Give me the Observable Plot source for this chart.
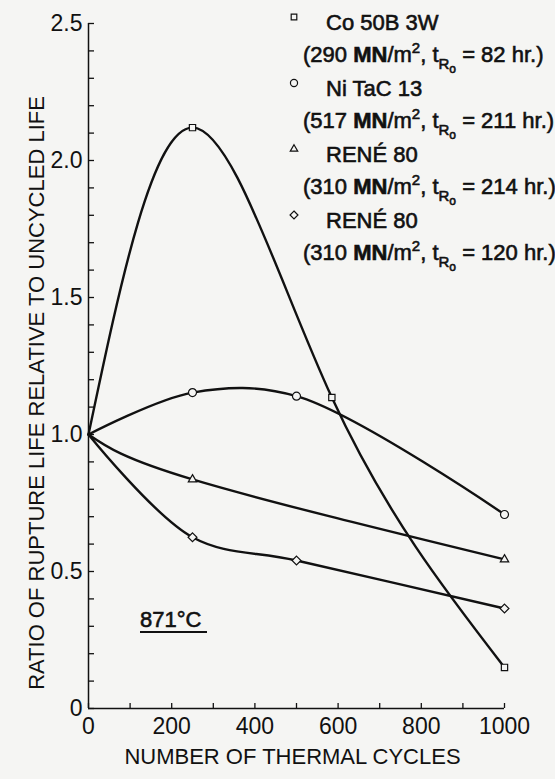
<!DOCTYPE html>
<html>
<head>
<meta charset="utf-8">
<script src="https://cdn.jsdelivr.net/npm/d3@7"></script>
<script src="https://cdn.jsdelivr.net/npm/@observablehq/plot@0.6"></script>
<style>
  html, body { margin: 0; padding: 0; background: #f5f5f3; }
  #wrap { position: relative; width: 555px; height: 779px; font-family: "Liberation Sans", Arial, sans-serif; color: #111; }
  #wrap svg text { -webkit-text-stroke: 0.7px #111; }
  .lg { position: absolute; font-size: 22px; line-height: 22px; white-space: nowrap; -webkit-text-stroke: 0.6px #111; }
  .lg sup { font-size: 15px; vertical-align: 9px; line-height: 0; }
  .lg .sb { font-size: 15px; vertical-align: -7px; line-height: 0; }
  .lg .sb2 { font-size: 12px; vertical-align: -4px; line-height: 0; }
  .sym { position: absolute; }
  #note { position: absolute; font-size: 22px; line-height: 22px; border-bottom: 2px solid #111; padding-right: 6px; -webkit-text-stroke: 0.6px #111; }
</style>
</head>
<body>
<div id="wrap"></div>
<script>
// ---- data ----
const seriesIds = ["co", "ni", "r214", "r120"];
const seriesSymbols = ["square2", "circle", "triangle2", "diamond2"];
const seriesCurves = ["natural", "catmull-rom", "natural", "catmull-rom"];
const seriesNames = ["Co 50B 3W", "Ni TaC 13", "RENÉ 80", "RENÉ 80"];
const seriesStress = ["290", "517", "310", "310"];
const seriesLife = ["82", "211", "214", "120"];

const coCycles = [0, 250, 585, 1000];
const coRatio  = [1.0, 2.12, 1.135, 0.15];
const niCycles = [0, 250, 500, 1000];
const niRatio  = [1.0, 1.153, 1.14, 0.708];
const r214Cycles = [0, 250, 1000];
const r214Ratio  = [1.0, 0.836, 0.544];
const r120Cycles = [0, 250, 500, 1000];
const r120Ratio  = [1.0, 0.625, 0.54, 0.365];

const xTickValues = [0, 100, 200, 300, 400, 500, 600, 700, 800, 900, 1000];
const xTickLabels = [0, 200, 400, 600, 800, 1000];
const yTickValues = [0, 0.1, 0.2, 0.3, 0.4, 0.5, 0.6, 0.7, 0.8, 0.9, 1.0, 1.1, 1.2, 1.3, 1.4, 1.5, 1.6, 1.7, 1.8, 1.9, 2.0, 2.1, 2.2, 2.3, 2.4, 2.5];
const yTickLabels = [0, 0.5, 1.0, 1.5, 2.0, 2.5];

const xTitle = "NUMBER OF THERMAL CYCLES";
const yTitle = "RATIO OF RUPTURE LIFE RELATIVE TO UNCYCLED LIFE";
const noteText = "871°C";

// ---- build rows ----
const raw = {co: [coCycles, coRatio], ni: [niCycles, niRatio], r214: [r214Cycles, r214Ratio], r120: [r120Cycles, r120Ratio]};
const rows = seriesIds.flatMap(id => raw[id][0].map((c, i) => ({series: id, cycles: c, ratio: raw[id][1][i]})));

const ink = "#111";
const bg = "#f5f5f3";

const chart = Plot.plot({
  width: 555, height: 779,
  marginLeft: 88, marginRight: 51, marginTop: 23, marginBottom: 71,
  style: {background: "transparent", fontFamily: "Liberation Sans, Arial, sans-serif", color: ink, fontSize: "23px"},
  x: {domain: [0, 1000]},
  y: {domain: [0, 2.5]},
  symbol: {domain: seriesIds, range: seriesSymbols},
  marks: [
    Plot.ruleX([0], {stroke: ink, strokeWidth: 1.5}),
    Plot.ruleY([0], {stroke: ink, strokeWidth: 1.5}),
    Plot.axisY(yTickValues, {tickSize: -6, tickFormat: () => "", label: null, stroke: ink, strokeWidth: 1.3}),
    Plot.axisY(yTickLabels, {tickSize: 0, tickPadding: 6, tickFormat: d => d === 0 ? "0" : d3.format(".1f")(d), fontSize: 23, label: null}),
    Plot.axisX(xTickValues, {tickSize: -5, tickFormat: () => "", label: null, stroke: ink, strokeWidth: 1.3}),
    Plot.axisX(xTickLabels, {tickSize: 0, tickPadding: 9, tickFormat: d => String(d), fontSize: 23, label: null}),
    Plot.text([yTitle], {frameAnchor: "left", textAnchor: "middle", rotate: -90, dx: -52, dy: 27, fontSize: 22, fill: ink}),
    Plot.text([xTitle], {frameAnchor: "bottom", dx: -4, dy: 55, fontSize: 22, fill: ink}),
    ...seriesIds.map((id, i) => Plot.line(rows.filter(d => d.series === id), {x: "cycles", y: "ratio", curve: seriesCurves[i], stroke: ink, strokeWidth: 2.4})),
    Plot.dot(rows.filter(d => d.cycles > 0), {x: "cycles", y: "ratio", symbol: "series", r: 4, fill: bg, stroke: ink, strokeWidth: 1.2})
  ]
});
const wrap = document.getElementById("wrap");
wrap.appendChild(chart);

// ---- legend (HTML overlay) ----
const symPath = {
  square2: d3.symbol(d3.symbolSquare2, 40)(),
  circle: d3.symbol(d3.symbolCircle, 40)(),
  triangle2: d3.symbol(d3.symbolTriangle2, 40)(),
  diamond2: d3.symbol(d3.symbolDiamond2, 40)()
};
seriesIds.forEach((id, i) => {
  const top = 12 + i * 66;
  const s = document.createElementNS("http://www.w3.org/2000/svg", "svg");
  s.setAttribute("class", "sym"); s.setAttribute("width", 14); s.setAttribute("height", 14);
  s.style.left = (294 - 7) + "px"; s.style.top = (top + 5 - 7) + "px";
  const p = document.createElementNS("http://www.w3.org/2000/svg", "path");
  p.setAttribute("d", symPath[seriesSymbols[i]]); p.setAttribute("transform", "translate(7,7)");
  p.setAttribute("fill", "none"); p.setAttribute("stroke", ink); p.setAttribute("stroke-width", 1.2);
  s.appendChild(p); wrap.appendChild(s);
  const l1 = document.createElement("div");
  l1.className = "lg"; l1.style.left = "326px"; l1.style.top = top + "px";
  l1.textContent = seriesNames[i];
  wrap.appendChild(l1);
  const l2 = document.createElement("div");
  l2.className = "lg"; l2.style.left = "303px"; l2.style.top = (top + 32) + "px";
  l2.innerHTML = `(${seriesStress[i]} <b>MN</b>/m<sup>2</sup>, t<span class="sb">R<span class="sb2">o</span></span> = ${seriesLife[i]} hr.)`;
  wrap.appendChild(l2);
});

const note = document.createElement("div");
note.id = "note"; note.style.left = "140px"; note.style.top = "609px";
note.textContent = noteText;
wrap.appendChild(note);
</script>
</body>
</html>
